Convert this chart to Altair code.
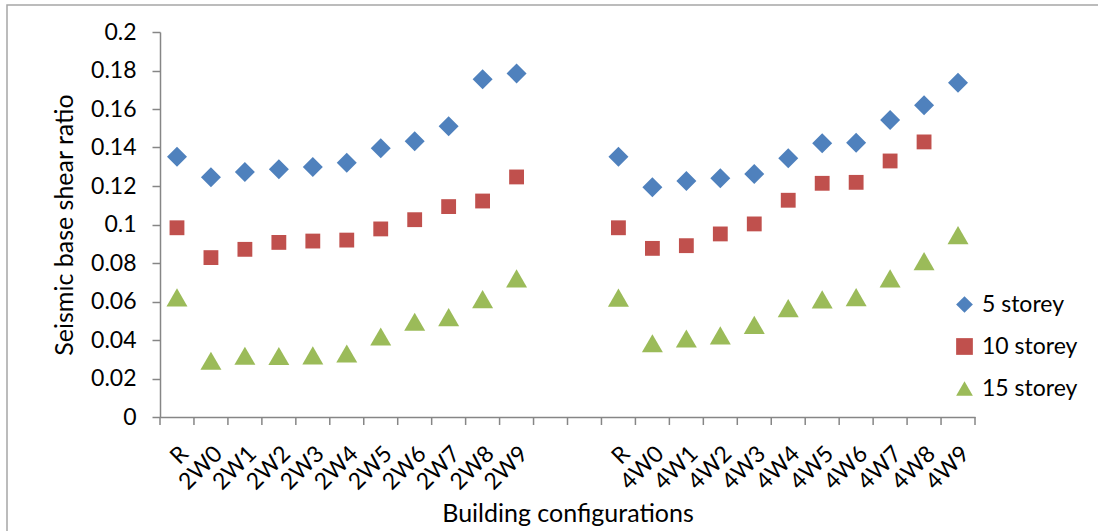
import altair as alt
import pandas as pd

# Building configurations for the two wall layouts
group_2w = ["R", "2W0", "2W1", "2W2", "2W3", "2W4", "2W5", "2W6", "2W7", "2W8", "2W9"]
group_4w = ["R", "4W0", "4W1", "4W2", "4W3", "4W4", "4W5", "4W6", "4W7", "4W8", "4W9"]

series_names = ["5 storey", "10 storey", "15 storey"]
series_colors = ["#4F81BD", "#C0504D", "#9BBB59"]
series_shapes = ["diamond", "square", "triangle-up"]
series_sizes = [400, 220, 440]

# Seismic base shear ratio, 2W layouts
s5_2w = [0.1352, 0.1245, 0.1273, 0.1287, 0.1299, 0.1321, 0.1396, 0.1432, 0.1510, 0.1754, 0.1785]
s10_2w = [0.0983, 0.0828, 0.0871, 0.0907, 0.0914, 0.0919, 0.0977, 0.1025, 0.1093, 0.1122, 0.1247]
s15_2w = [0.0621, 0.0292, 0.0318, 0.0317, 0.0320, 0.0330, 0.0418, 0.0495, 0.0519, 0.0612, 0.0720]

# Seismic base shear ratio, 4W layouts
s5_4w = [0.1352, 0.1193, 0.1226, 0.1240, 0.1262, 0.1344, 0.1422, 0.1425, 0.1543, 0.1619, 0.1737]
s10_4w = [0.0983, 0.0876, 0.0890, 0.0951, 0.1003, 0.1126, 0.1214, 0.1219, 0.1330, 0.1429, None]
s15_4w = [0.0620, 0.0383, 0.0408, 0.0424, 0.0479, 0.0566, 0.0611, 0.0623, 0.0720, 0.0810, 0.0945]

y_ticks = [0, 0.02, 0.04, 0.06, 0.08, 0.1, 0.12, 0.14, 0.16, 0.18, 0.2]

# Unique category keys "a_" / "b_" + label; two empty slots separate the groups
keys_2w = [f"a_{c}" for c in group_2w]
keys_4w = [f"b_{c}" for c in group_4w]
x_domain = keys_2w + ["g_1", "g_2"] + keys_4w

rows = []
for keys, cols in ((keys_2w, (s5_2w, s10_2w, s15_2w)), (keys_4w, (s5_4w, s10_4w, s15_4w))):
    for name, vals in zip(series_names, cols):
        for k, v in zip(keys, vals):
            if v is not None:
                rows.append({"config": k, "series": name, "ratio": v})
df = pd.DataFrame(rows)

FONT = "Lato"
AXIS_GREY = "#868686"

x_scale = alt.Scale(domain=x_domain, paddingInner=0, paddingOuter=0)
x_axis = alt.Axis(
    title="Building configurations",
    labelExpr="slice(datum.value, 0, 1) == 'g' ? '' : slice(datum.value, 2)",
    labelAngle=-45,
    labelAlign="right",
    labelBaseline="top",
    labelPadding=25,
    ticks=False,
    titlePadding=8,
)
y_scale = alt.Scale(domain=[0, 0.2])
y_axis = alt.Axis(
    title="Seismic base shear ratio",
    values=y_ticks,
    format=".2~f",
    tickSize=8,
    labelPadding=16,
    titlePadding=13,
    grid=False,
)
color_enc = alt.Color(
    "series:N",
    scale=alt.Scale(domain=series_names, range=series_colors),
    legend=alt.Legend(
        title=None,
        orient="none",
        legendX=793,
        legendY=261,
        symbolSize=280,
        rowPadding=18,
        labelOffset=6,
    ),
)
shape_enc = alt.Shape(
    "series:N",
    scale=alt.Scale(domain=series_names, range=series_shapes),
)

# One point layer per series so each marker keeps its own size
point_layers = []
for name, size in zip(series_names, series_sizes):
    point_layers.append(
        alt.Chart(df)
        .transform_filter(alt.datum.series == name)
        .mark_point(filled=True, opacity=1, size=size)
        .encode(
            x=alt.X("config:N", scale=x_scale, axis=x_axis),
            y=alt.Y("ratio:Q", scale=y_scale, axis=y_axis),
            color=color_enc,
            shape=shape_enc,
        )
    )

# Category boundary ticks below the x axis
boundaries = pd.DataFrame({"config": x_domain})
tick_marks = alt.Chart(boundaries).mark_rule(color=AXIS_GREY, strokeWidth=1.5).encode(
    x=alt.X("config:N", bandPosition=0, scale=x_scale, axis=x_axis),
    y=alt.value(385),
    y2=alt.value(393),
)
end_tick = alt.Chart(pd.DataFrame({"config": x_domain[-1:]})).mark_rule(
    color=AXIS_GREY, strokeWidth=1.5
).encode(
    x=alt.X("config:N", bandPosition=1, scale=x_scale, axis=x_axis),
    y=alt.value(385),
    y2=alt.value(393),
)

# Outer chart frame
frame = alt.Chart(alt.Data(values=[{"f": 1}])).mark_rect(
    fillOpacity=0, stroke="#a6a6a6", strokeWidth=1.5
).encode(
    x=alt.value(-153), x2=alt.value(1000), y=alt.value(-27), y2=alt.value(600)
)

chart = alt.layer(frame, tick_marks, end_tick, *point_layers).properties(
    width=815,
    height=385,
    padding={"left": 160, "top": 32, "right": 123, "bottom": 114},
    autosize=alt.AutoSizeParams(type="none"),
).configure_view(
    stroke=None
).configure_axis(
    domainColor=AXIS_GREY,
    tickColor=AXIS_GREY,
    domainWidth=1.5,
    tickWidth=1.5,
    labelFont=FONT,
    titleFont=FONT,
    labelFontSize=23,
    titleFontSize=25,
    labelColor="#000000",
    titleColor="#000000",
    titleFontWeight="normal",
).configure_legend(
    labelFont=FONT,
    labelFontSize=23,
    labelColor="#000000",
)

chart.save("out.html", embed_options={"renderer": "svg", "actions": False})
